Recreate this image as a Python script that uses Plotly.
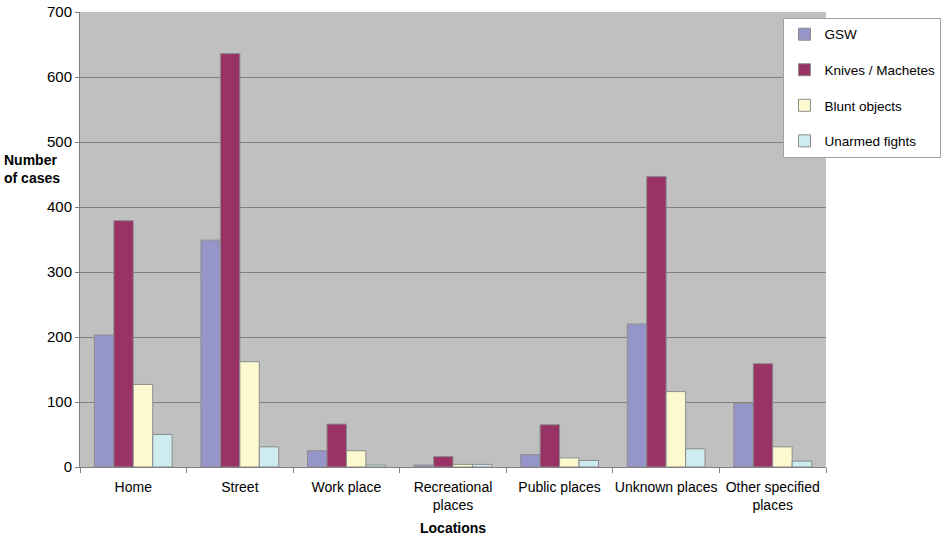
import plotly.graph_objects as go

categories = ["Home", "Street", "Work place", "Recreational<br>places", "Public places",
              "Unknown places", "Other specified<br>places"]
gsw = [203, 349, 25, 3, 19, 220, 98]
knives = [379, 636, 66, 16, 65, 447, 159]
blunt = [127, 162, 25, 4, 14, 116, 31]
unarmed = [50, 31, 3, 4, 10, 28, 9]

series = [
    ("GSW", gsw, "#9595C9"),
    ("Knives / Machetes", knives, "#993366"),
    ("Blunt objects", blunt, "#FCF9CE"),
    ("Unarmed fights", unarmed, "#CEEBF0"),
]

fig = go.Figure()
for i, (name, vals, col) in enumerate(series):
    fig.add_trace(go.Bar(
        x=categories, y=vals, name=name, legendgroup=str(i),
        marker=dict(color=col, line=dict(color="#8C8C8C", width=1)),
    ))

font_family = "Liberation Sans, Arial, sans-serif"
fig.update_layout(
    width=948, height=539,
    margin=dict(l=80, r=122, t=12, b=72, autoexpand=False),
    paper_bgcolor="white",
    plot_bgcolor="#C0C0C0",
    barmode="group",
    bargap=0.27,
    bargroupgap=0,
    font=dict(family=font_family, size=14, color="black"),
    showlegend=True,
    legend=dict(
        x=0.943, y=0.987, xanchor="left", yanchor="top",
        bgcolor="white", bordercolor="#A0A0A0", borderwidth=1,
        font=dict(size=13.5, family=font_family),
        traceorder="grouped", tracegroupgap=15, itemwidth=30,
    ),
    xaxis=dict(
        type="category", tickson="boundaries", ticks="outside", ticklen=5,
        tickcolor="#808080", showline=True, linecolor="#808080", linewidth=1,
        showgrid=False, tickfont=dict(size=14), tickangle=0, automargin=False,
        ticklabelstandoff=7,
    ),
    yaxis=dict(
        range=[0, 700], dtick=100, ticks="outside", ticklen=4, tickcolor="#808080",
        showline=True, linecolor="#808080", linewidth=1,
        showgrid=True, gridcolor="#808080", gridwidth=1, zeroline=False,
        tickfont=dict(size=15), automargin=False,
    ),
    annotations=[
        dict(text="<b>Number<br>of cases</b>", xref="paper", yref="paper",
             x=-0.105, y=0.655, xanchor="left", yanchor="middle", showarrow=False,
             align="left", font=dict(size=14)),
        dict(text="<b>Locations</b>", xref="paper", yref="paper",
             x=0.5, y=-0.135, xanchor="center", yanchor="middle", showarrow=False,
             font=dict(size=14)),
    ],
)

fig.write_html("out.html")
